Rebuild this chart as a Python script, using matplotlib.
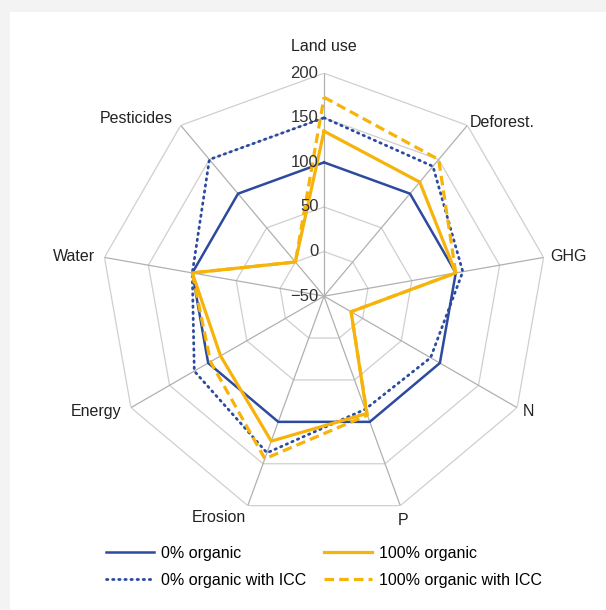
import matplotlib
matplotlib.use('Agg')
import matplotlib.pyplot as plt
import numpy as np

plt.rcParams['font.family'] = ['Liberation Sans', 'DejaVu Sans']

categories = ['Land use', 'Deforest.', 'GHG', 'N', 'P', 'Erosion', 'Energy', 'Water', 'Pesticides']
org0 = [100, 100, 100, 100, 100, 100, 100, 100, 100]
org0_icc = [150, 140, 108, 88, 85, 137, 118, 100, 150]
org100 = [135, 117, 100, -15, 90, 123, 84, 100, 0]
org100_icc = [173, 150, 100, -15, 92, 144, 97, 100, 0]
levels = [-50, 0, 50, 100, 150, 200]

blue = '#2c4a9e'
yellow = '#f6b40a'

n = len(categories)
theta = np.arange(n) * 2 * np.pi / n
theta_c = np.append(theta, theta[0])

def closed(v):
	return np.append(v, v[0])

fig = plt.figure(figsize=(6.06, 6.10), dpi=100, facecolor='#f3f3f3')
# white panel, gray margin on left and top
bg = plt.Rectangle((10/606, 0), 1, 1 - 12/610, transform=fig.transFigure,
	facecolor='white', edgecolor='none', zorder=-10)
fig.add_artist(bg)

ax = fig.add_axes([0.1667, 0.149, 0.736, 0.731], projection='polar')
ax.set_facecolor('none')
ax.set_theta_offset(np.pi/2)
ax.set_theta_direction(-1)
ax.set_ylim(-50, 200)
ax.grid(False)
ax.set_xticks([])
ax.set_yticks([])
ax.spines['polar'].set_visible(False)

# polygon grid + spokes
for lv in levels[1:]:
	ax.plot(theta_c, [lv]*(n+1), color='#cfcfcf', lw=0.9, zorder=1)
for t in theta:
	ax.plot([t, t], [-50, 200], color='#b0b0b0', lw=0.9, zorder=1)

ax.plot(theta_c, closed(org0), color=blue, lw=1.8, label='0% organic', zorder=3)
ax.plot(theta_c, closed(org0_icc), color=blue, lw=2.0, linestyle=(0, (0.5, 1.7)),
	dash_capstyle='round', label='0% organic with ICC', zorder=3)
ax.plot(theta_c, closed(org100), color=yellow, lw=2.3, label='100% organic', zorder=4)
ax.plot(theta_c, closed(org100_icc), color=yellow, lw=2.3, linestyle=(0, (3, 1.6)),
	label='100% organic with ICC', zorder=4)

# radial tick labels
for lv in levels:
	ax.annotate(str(lv).replace('-', '\u2212'), xy=(0, lv), xytext=(-4, 0), textcoords='offset points',
		ha='right', va='center', fontsize=12, color='#333333', zorder=5)

# category labels
lab_pos = {
	'Land use': ((0, 14), 'center', 'bottom'),
	'Deforest.': ((2, 2), 'left', 'center'),
	'GHG': ((5, 1), 'left', 'center'),
	'N': ((4, -3), 'left', 'center'),
	'P': ((-2, -5), 'left', 'top'),
	'Erosion': ((-1, -3), 'right', 'top'),
	'Energy': ((-7, -3), 'right', 'center'),
	'Water': ((-7, 1), 'right', 'center'),
	'Pesticides': ((-6, 5), 'right', 'center'),
}
for t, c in zip(theta, categories):
	off, ha, va = lab_pos[c]
	ax.annotate(c, xy=(t, 200), xytext=off, textcoords='offset points',
		ha=ha, va=va, fontsize=11.5, color='#222222')

handles, labels = ax.get_legend_handles_labels()
fig.legend(handles, labels, loc='center', bbox_to_anchor=(0.535, 0.071), ncol=2,
	frameon=False, fontsize=11.5, handlelength=3.0, columnspacing=1.1,
	labelspacing=0.75, handletextpad=0.45)

plt.savefig('out.png', dpi=100, facecolor=fig.get_facecolor())
